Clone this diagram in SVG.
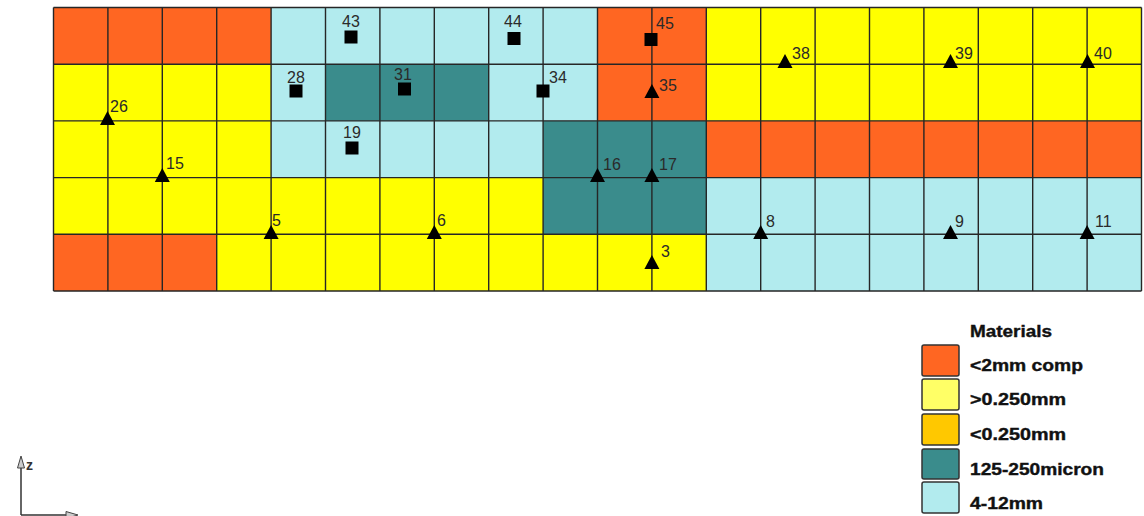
<svg xmlns="http://www.w3.org/2000/svg" xmlns:xlink="http://www.w3.org/1999/xlink" width="1144" height="516" viewBox="0 0 1144 516">
<style>
.o{fill:#FF6622}.y{fill:#FFFF00}.c{fill:#B2EBEE}.t{fill:#3A8C8C}
.lbl{font-family:"Liberation Sans",Arial,sans-serif;font-size:16px;fill:#2a2a2a}
.mid{text-anchor:middle}
.leg{font-family:"Liberation Sans",Arial,sans-serif;font-size:17px;font-weight:bold;fill:#111;stroke:#111;stroke-width:0.4}
.sw{stroke:#333;stroke-width:1.5}
.grid{fill:none;stroke:#262626;stroke-width:1.4}
</style>
<defs>
<path id="tri" d="M0,0 L7.5,14 L-7.5,14 Z" fill="#000"/>
<rect id="sq" x="-6.5" y="-6.5" width="13" height="13" fill="#000"/>
</defs>
<rect width="1144" height="516" fill="#fff"/>
<g id="cells">
<rect class="o" x="53.5" y="7.5" width="217.6" height="56.7"/>
<rect class="c" x="271.1" y="7.5" width="326.4" height="56.7"/>
<rect class="o" x="597.5" y="7.5" width="108.8" height="56.7"/>
<rect class="y" x="706.3" y="7.5" width="435.2" height="56.7"/>
<rect class="y" x="53.5" y="64.2" width="217.6" height="56.7"/>
<rect class="c" x="271.1" y="64.2" width="54.4" height="56.7"/>
<rect class="t" x="325.5" y="64.2" width="163.2" height="56.7"/>
<rect class="c" x="488.7" y="64.2" width="108.8" height="56.7"/>
<rect class="o" x="597.5" y="64.2" width="108.8" height="56.7"/>
<rect class="y" x="706.3" y="64.2" width="435.2" height="56.7"/>
<rect class="y" x="53.5" y="120.9" width="217.6" height="56.7"/>
<rect class="c" x="271.1" y="120.9" width="272" height="56.7"/>
<rect class="t" x="543.1" y="120.9" width="163.2" height="56.7"/>
<rect class="o" x="706.3" y="120.9" width="435.2" height="56.7"/>
<rect class="y" x="53.5" y="177.6" width="489.6" height="56.7"/>
<rect class="t" x="543.1" y="177.6" width="163.2" height="56.7"/>
<rect class="c" x="706.3" y="177.6" width="435.2" height="56.7"/>
<rect class="o" x="53.5" y="234.3" width="163.2" height="56.7"/>
<rect class="y" x="216.7" y="234.3" width="489.6" height="56.7"/>
<rect class="c" x="706.3" y="234.3" width="435.2" height="56.7"/>
</g>
<g id="grid">
<path class="grid" d="M53.5,7.5V291M107.9,7.5V291M162.3,7.5V291M216.7,7.5V291M271.1,7.5V291M325.5,7.5V291M379.9,7.5V291M434.3,7.5V291M488.7,7.5V291M543.1,7.5V291M597.5,7.5V291M651.9,7.5V291M706.3,7.5V291M760.7,7.5V291M815.1,7.5V291M869.5,7.5V291M923.9,7.5V291M978.3,7.5V291M1032.7,7.5V291M1087.1,7.5V291M1141.5,7.5V291M53.5,7.5H1141.5M53.5,64.2H1141.5M53.5,120.9H1141.5M53.5,177.6H1141.5M53.5,234.3H1141.5M53.5,291H1141.5"/>
</g>
<g id="n43"><use xlink:href="#sq" x="351" y="37"/><text class="lbl mid" x="351" y="27">43</text></g>
<g id="n44"><use xlink:href="#sq" x="514" y="38.5"/><text class="lbl mid" x="513" y="27">44</text></g>
<g id="n45"><use xlink:href="#sq" x="651" y="39.5"/><text class="lbl" x="656" y="29">45</text></g>
<g id="n28"><use xlink:href="#sq" x="296" y="91"/><text class="lbl mid" x="296" y="83">28</text></g>
<g id="n31"><use xlink:href="#sq" x="404.5" y="89"/><text class="lbl mid" x="403" y="80">31</text></g>
<g id="n34"><use xlink:href="#sq" x="543" y="91"/><text class="lbl" x="549" y="83">34</text></g>
<g id="n19"><use xlink:href="#sq" x="352" y="148"/><text class="lbl mid" x="352" y="138">19</text></g>
<g id="n26"><use xlink:href="#tri" x="107.5" y="111"/><text class="lbl" x="110" y="112">26</text></g>
<g id="n15"><use xlink:href="#tri" x="162.3" y="168"/><text class="lbl" x="166" y="169">15</text></g>
<g id="n5"><use xlink:href="#tri" x="271.1" y="225"/><text class="lbl" x="272" y="226">5</text></g>
<g id="n6"><use xlink:href="#tri" x="434.3" y="225"/><text class="lbl" x="437" y="226">6</text></g>
<g id="n16"><use xlink:href="#tri" x="597.5" y="168"/><text class="lbl" x="603" y="170">16</text></g>
<g id="n17"><use xlink:href="#tri" x="651.9" y="168"/><text class="lbl" x="659" y="170">17</text></g>
<g id="n3"><use xlink:href="#tri" x="651.9" y="255"/><text class="lbl" x="661" y="257">3</text></g>
<g id="n35"><use xlink:href="#tri" x="651.9" y="84"/><text class="lbl" x="659" y="91">35</text></g>
<g id="n8"><use xlink:href="#tri" x="760.7" y="225"/><text class="lbl" x="766" y="227">8</text></g>
<g id="n9"><use xlink:href="#tri" x="950.5" y="225"/><text class="lbl" x="955" y="227">9</text></g>
<g id="n11"><use xlink:href="#tri" x="1087.1" y="225"/><text class="lbl" x="1095" y="227">11</text></g>
<g id="n38"><use xlink:href="#tri" x="785" y="54"/><text class="lbl" x="792" y="59">38</text></g>
<g id="n39"><use xlink:href="#tri" x="950.5" y="54"/><text class="lbl" x="955" y="59">39</text></g>
<g id="n40"><use xlink:href="#tri" x="1087.5" y="54"/><text class="lbl" x="1094" y="59">40</text></g>
<g id="legend">
<text class="leg" x="970" y="337" textLength="82" lengthAdjust="spacingAndGlyphs">Materials</text>
<rect class="sw" x="922" y="345" width="37" height="31" rx="2" fill="#FF6622"/>
<rect class="sw" x="922" y="379" width="37" height="31" rx="2" fill="#FFFF66"/>
<rect class="sw" x="922" y="414" width="37" height="31" rx="2" fill="#FFC800"/>
<rect class="sw" x="922" y="449" width="37" height="30" rx="2" fill="#3A8C8C"/>
<rect class="sw" x="922" y="482" width="37" height="31" rx="2" fill="#B2EBEE"/>
<text class="leg" x="970" y="371" textLength="113" lengthAdjust="spacingAndGlyphs">&lt;2mm comp</text>
<text class="leg" x="970" y="405" textLength="96" lengthAdjust="spacingAndGlyphs">&gt;0.250mm</text>
<text class="leg" x="970" y="440" textLength="96" lengthAdjust="spacingAndGlyphs">&lt;0.250mm</text>
<text class="leg" x="970" y="475" textLength="134" lengthAdjust="spacingAndGlyphs">125-250micron</text>
<text class="leg" x="970" y="509" textLength="73" lengthAdjust="spacingAndGlyphs">4-12mm</text>
</g>
<g id="axes">
<line x1="21" y1="458" x2="21" y2="515" stroke="#333" stroke-width="1.5"/>
<path d="M21,456 L24.5,468 L17.5,468 Z" fill="#ccc" stroke="#444" stroke-width="1"/>
<text x="26" y="470" font-family="Liberation Sans,Arial,sans-serif" font-size="14" font-weight="bold" fill="#333">z</text>
<line x1="21" y1="515" x2="72" y2="515" stroke="#333" stroke-width="1.5"/>
<path d="M78,515 L66,511.5 L66,518.5 Z" fill="#ccc" stroke="#444" stroke-width="1"/>
</g>
</svg>
